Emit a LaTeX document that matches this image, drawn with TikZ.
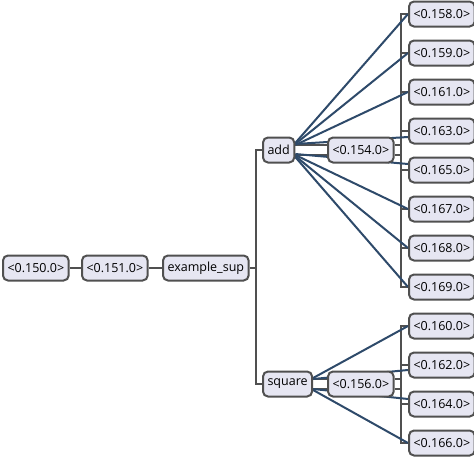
\documentclass[tikz,border=0pt]{standalone}
\usepackage{fontspec}
\setmainfont{Open Sans}
\usetikzlibrary{calc,backgrounds}
\definecolor{boxfill}{HTML}{E6E6F2}
\definecolor{boxline}{HTML}{505050}
\definecolor{linkblue}{HTML}{2E4A6A}
\tikzset{
  box/.style={draw=boxline, fill=boxfill, line width=2pt, rounded corners=5pt,
    minimum height=25pt, inner xsep=4.5pt, inner ysep=0pt, anchor=west,
    font=\fontsize{12.5}{14}\selectfont},
  tree/.style={draw=boxline, line width=2pt},
  link/.style={draw=linkblue, line width=2pt}
}

\begin{document}
\begin{tikzpicture}[x=1pt, y=-1pt]
      \useasboundingbox (0,0) rectangle (474,458);
      % left chain
      \node[box] (n150) at (2,268) {<0.150.0>};
      \node[box] (n151) at (81,268) {<0.151.0>};
      \node[box] (sup) at (162,268) {example\_sup};
      \node[box] (add) at (262,150) {add};
      \node[box] (square) at (262,384) {square};
      \node[box] (n154) at (327,150) {<0.154.0>};
      \node[box] (n156) at (327,384) {<0.156.0>};
      % leaves
      \node[box] (l158) at (408,14) {<0.158.0>};
      \node[box] (l159) at (408,53) {<0.159.0>};
      \node[box] (l161) at (408,92) {<0.161.0>};
      \node[box] (l163) at (408,131) {<0.163.0>};
      \node[box] (l165) at (408,170) {<0.165.0>};
      \node[box] (l167) at (408,209) {<0.167.0>};
      \node[box] (l168) at (408,248) {<0.168.0>};
      \node[box] (l169) at (408,287) {<0.169.0>};
      \node[box] (l160) at (408,326) {<0.160.0>};
      \node[box] (l162) at (408,365) {<0.162.0>};
      \node[box] (l164) at (408,404) {<0.164.0>};
      \node[box] (l166) at (408,443) {<0.166.0>};
      \coordinate (trunk) at (256,268);
      \coordinate (bus154) at (401,150);
      \coordinate (bus156) at (401,384);
      \begin{scope}[on background layer]
      \draw[tree] (n150.east) -- (n151.west);
      \draw[tree] (n151.east) -- (sup.west);
      \draw[tree] (sup.east) -- (trunk);
      \draw[tree] (add.west) -| (trunk) |- (square.west);
      % twin lines into the inner nodes
      \draw[tree] ([yshift=5pt]add.east) -- ([yshift=5pt]n154.west);
      \draw[tree] ([yshift=-5pt]add.east) -- ([yshift=-5pt]n154.west);
      \draw[tree] ([yshift=5pt]square.east) -- ([yshift=5pt]n156.west);
      \draw[tree] ([yshift=-5pt]square.east) -- ([yshift=-5pt]n156.west);
      \draw[tree] ([yshift=5pt]n154.east) -- ([yshift=5pt]bus154);
      \draw[tree] ([yshift=-5pt]n154.east) -- ([yshift=-5pt]bus154);
      \draw[tree] ([yshift=5pt]n156.east) -- ([yshift=5pt]bus156);
      \draw[tree] ([yshift=-5pt]n156.east) -- ([yshift=-5pt]bus156);
      \draw[tree] (l158.west) -| (bus154);
      \draw[tree] (l159.west) -| (bus154);
      \draw[tree] (l161.west) -| (bus154);
      \draw[tree] (l163.west) -| (bus154);
      \draw[tree] (l165.west) -| (bus154);
      \draw[tree] (l167.west) -| (bus154);
      \draw[tree] (l168.west) -| (bus154);
      \draw[tree] (l169.west) -| (bus154);
      \draw[tree] (l160.west) -| (bus156);
      \draw[tree] (l162.west) -| (bus156);
      \draw[tree] (l164.west) -| (bus156);
      \draw[tree] (l166.west) -| (bus156);
      % direct links, fanned over the right side
      \draw[link] ([yshift=7pt]add.east) -- (l158.west);
      \draw[link] ([yshift=6pt]add.east) -- (l159.west);
      \draw[link] ([yshift=5pt]add.east) -- (l161.west);
      \draw[link] ([yshift=6pt]add.east) -- ([yshift=-6pt]l163.west);
      \draw[link] ([yshift=-4pt]add.east) -- ([yshift=6pt]l165.west);
      \draw[link] ([yshift=-5pt]add.east) -- (l167.west);
      \draw[link] ([yshift=-6pt]add.east) -- (l168.west);
      \draw[link] ([yshift=-7pt]add.east) -- (l169.west);
      \draw[link] ([yshift=6pt]square.east) -- (l160.west);
      \draw[link] ([yshift=5pt]square.east) -- ([yshift=-5pt]l162.west);
      \draw[link] ([yshift=-5pt]square.east) -- ([yshift=5pt]l164.west);
      \draw[link] ([yshift=-6pt]square.east) -- (l166.west);
      \end{scope}
\end{tikzpicture}
\end{document}
